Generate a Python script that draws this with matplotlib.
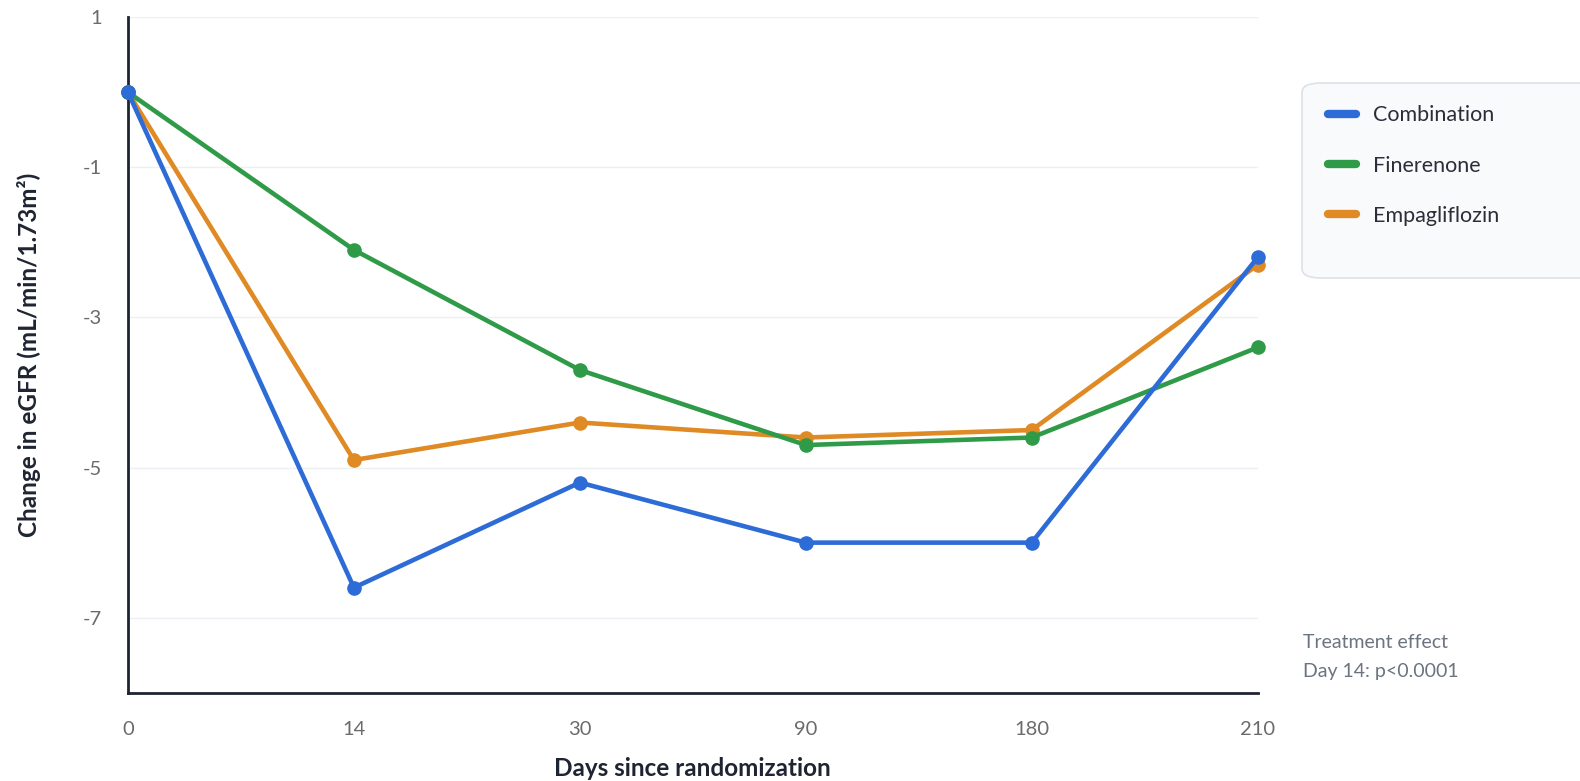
import matplotlib
matplotlib.use("Agg")
import matplotlib.pyplot as plt
from matplotlib.patches import FancyBboxPatch
from matplotlib.lines import Line2D

plt.rcParams['font.family'] = ['Lato', 'DejaVu Sans']

days = ["0", "14", "30", "90", "180", "210"]
combination = [0.0, -6.6, -5.2, -6.0, -6.0, -2.2]
finerenone = [0.0, -2.1, -3.7, -4.7, -4.6, -3.4]
empagliflozin = [0.0, -4.9, -4.4, -4.6, -4.5, -2.3]
y_ticks = [1, -1, -3, -5, -7]

series = [
    ("Combination", combination, "#2d6bd6"),
    ("Finerenone", finerenone, "#2f9b48"),
    ("Empagliflozin", empagliflozin, "#df8a24"),
]

fig = plt.figure(figsize=(15.8, 7.81), dpi=100)
ax = fig.add_axes([0.081, 0.113, 0.715, 0.865])

xs = list(range(len(days)))
# draw in reverse so the combination line sits on top
for name, vals, col in reversed(series):
    ax.plot(xs, vals, color=col, lw=3.3, marker='o', markersize=9.5,
            solid_capstyle='round', solid_joinstyle='round', zorder=3,
            clip_on=False)

ax.set_xlim(0, len(days) - 1)
ax.set_ylim(-8, 1)
ax.set_xticks(xs)
ax.set_xticklabels(days)
ax.set_yticks(y_ticks)
ax.set_yticklabels([str(v) for v in y_ticks])
ax.tick_params(axis='both', length=0, labelsize=14.5, labelcolor='#6b6b6b')
ax.tick_params(axis='x', pad=20)
ax.tick_params(axis='y', pad=19)
ax.grid(axis='y', color='#eceff3', lw=1.0, zorder=0)
for s in ['top', 'right']:
    ax.spines[s].set_visible(False)
for s in ['left', 'bottom']:
    ax.spines[s].set_color('#1f2433')
    ax.spines[s].set_linewidth(2.0)

ax.set_xlabel("Days since randomization", fontsize=17.5, fontweight='bold',
              color='#1f2433')
ax.xaxis.set_label_coords(0.5, -0.095)
ax.set_ylabel("Change in eGFR (mL/min/1.73m²)", fontsize=17.5, fontweight='bold',
              color='#1f2433')
ax.yaxis.set_label_coords(-0.077, 0.5)

# legend panel
box = FancyBboxPatch((1302 / 1580, 1 - 278 / 781), 0.25, (278 - 83) / 781,
                     boxstyle="round,pad=0,rounding_size=0.012",
                     transform=fig.transFigure, facecolor='#f8fafc',
                     edgecolor='#dde2e8', lw=1.2, zorder=0)
fig.patches.append(box)

handles = [Line2D([0], [0], color=c, lw=6, solid_capstyle='round') for _, _, c in series]
fig.legend(handles, [n for n, _, _ in series], loc='upper left',
           bbox_to_anchor=(1309 / 1580, 1 - 86 / 781), frameon=False,
           fontsize=15.5, handlelength=1.3, handletextpad=0.75,
           labelspacing=1.4, labelcolor='#2a2e38')

fig.text(1303 / 1580, 1 - 643 / 781, "Treatment effect", fontsize=14,
         color='#6b7480', va='center', ha='left')
fig.text(1303 / 1580, 1 - 672 / 781, "Day 14: p<0.0001", fontsize=14,
         color='#6b7480', va='center', ha='left')

fig.savefig("out.png", dpi=100)
